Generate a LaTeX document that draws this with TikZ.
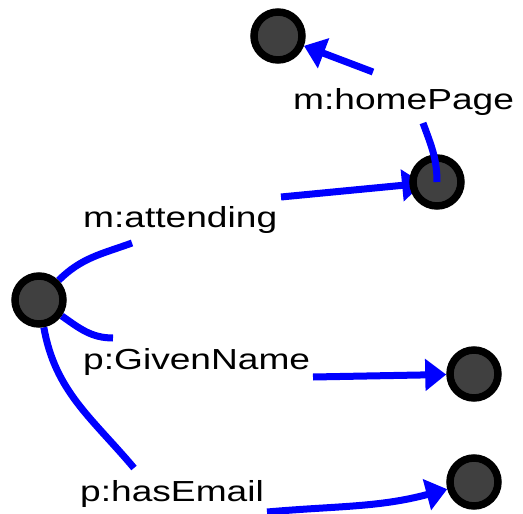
\documentclass[tikz,border=0pt]{standalone}
\usepackage{fontspec}
\newfontfamily\labelfont{Liberation Sans}[FakeStretch=1.28]
\usetikzlibrary{arrows.meta,backgrounds}

\tikzset{
  res/.style={circle, draw=black, fill=black!75, line width=7.5pt, minimum size=48pt, inner sep=0pt},
  prop/.style={font=\labelfont\fontsize{29}{32}\selectfont, anchor=base west, inner sep=0pt},
  link/.style={draw=blue, line width=7pt},
  arc/.style={link, -{Triangle[length=21pt,width=31pt]}},
}

\begin{document}
\begin{tikzpicture}[x=1pt,y=-1pt]
  \useasboundingbox (0,0) rectangle (523,514);

  % resources
  \node[res] (root) at (39,300) {};
  \node[res] (page) at (278,36) {};
  \node[res] (event) at (437,182) {};
  \node[res] (name) at (474,374) {};
  \node[res] (mail) at (474,482) {};

  % property labels
  \node[prop] (hp) at (293,109) {m:homePage};
  \node[prop] (att) at (83,227) {m:attending};
  \node[prop] (gn) at (83,369) {p:GivenName};
  \node[prop] (he) at (80,501) {p:hasEmail};

  % edge ends next to the labels
  \coordinate (hp-in) at (423,123);
  \coordinate (hp-out) at (373,72);
  \coordinate (att-in) at (132,243);
  \coordinate (att-out) at (281,197);
  \coordinate (gn-in) at (113,338);
  \coordinate (gn-out) at (313,377);
  \coordinate (he-in) at (134,468);
  \coordinate (he-out) at (267,512);

  \begin{scope}[on background layer]
    \draw[link] (root) to[out=45,in=200] (att-in);
    \draw[arc, shorten >=14pt] (att-out) -- (event.center);

    \draw[arc] (hp-out) -- (page);

    \draw[link] (root) to[out=-35,in=180] (gn-in);
    \draw[arc] (gn-out) -- (name);

    \draw[link] (root) to[out=-80,in=130] (he-in);
    \draw[arc] (he-out) to[out=5,in=195] (mail);
  \end{scope}

  \draw[link] (event.center) to[out=90,in=-70] (hp-in);
\end{tikzpicture}
\end{document}
